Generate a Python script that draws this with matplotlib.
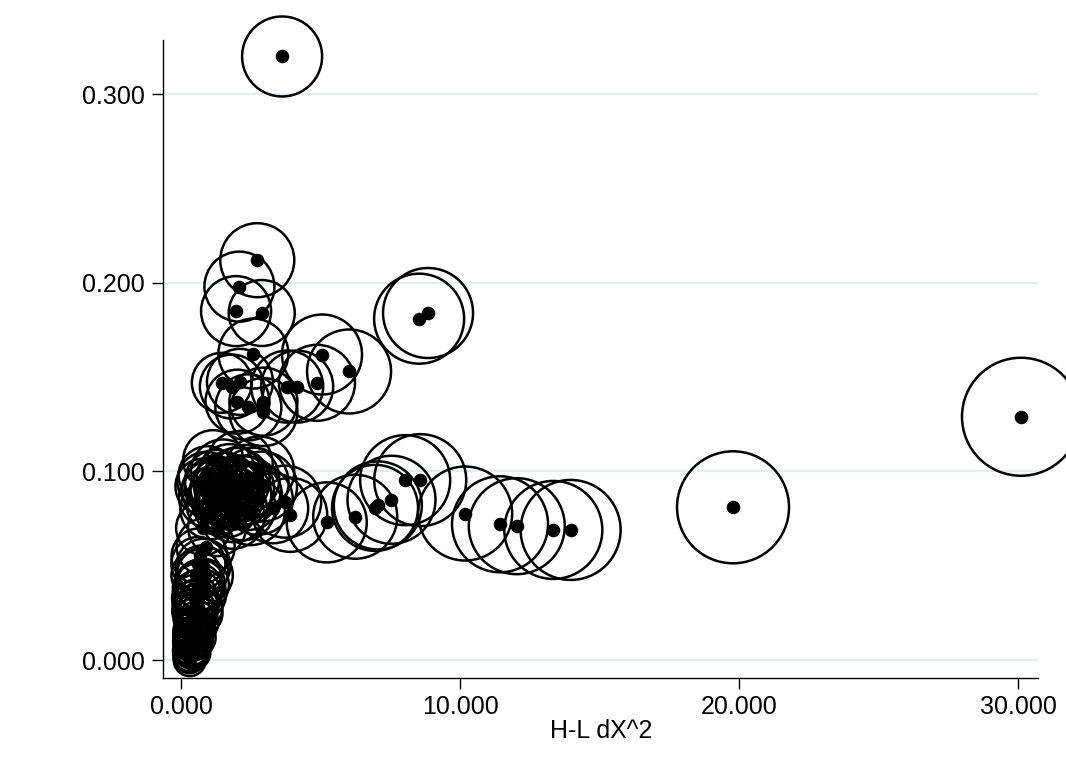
import matplotlib
matplotlib.use("Agg")
import matplotlib.pyplot as plt
from matplotlib.ticker import FormatStrFormatter

plt.rcParams["font.family"] = ["Liberation Sans", "DejaVu Sans"]

# H-L dX^2 against the statistic; r is the weight used for the hollow markers
# upper branch + outliers
x_hi = [3.62, 30.1, 19.78, 8.53, 8.85, 2.73, 2.09, 1.97, 2.89, 2.59, 5.05, 6.02,
        4.87, 3.80, 4.16, 1.46, 1.82, 2.11, 2.02, 2.41, 2.95, 2.95]
y_hi = [0.320, 0.129, 0.081, 0.181, 0.184, 0.212, 0.198, 0.185, 0.184, 0.1625, 0.162, 0.153,
        0.147, 0.145, 0.145, 0.147, 0.145, 0.1475, 0.137, 0.134, 0.137, 0.1315]
r_hi = [40, 59, 56, 45, 45, 37, 35, 35, 33, 35, 40, 42,
        38, 36, 36, 30, 32, 33, 32, 33, 34, 34]

# long tail around 0.07-0.10
x_tail = [3.73, 3.91, 5.22, 6.24, 6.95, 7.05, 7.54, 8.03, 8.57, 10.18, 11.43, 12.03,
          13.34, 13.96, 3.30]
y_tail = [0.084, 0.077, 0.073, 0.076, 0.0807, 0.082, 0.085, 0.0954, 0.0954, 0.0777, 0.072, 0.071,
          0.069, 0.069, 0.0805]
r_tail = [36, 37, 40, 42, 43, 44, 44, 45, 46, 47, 48, 48,
          49, 50, 35]

# dense knot near x = 1-3
x_knot = [1.15, 0.95, 1.25, 1.50, 1.75, 2.00, 2.30, 2.60, 2.90, 1.10, 1.40, 1.70,
          2.05, 2.40, 2.75, 1.30, 1.60, 1.90, 2.20, 2.50, 1.00, 0.80, 2.80, 0.79,
          1.29, 1.85, 2.10, 1.60, 1.20, 1.45, 1.80, 2.15, 0.90, 1.65, 2.35, 1.05]
y_knot = [0.106, 0.098, 0.095, 0.100, 0.097, 0.095, 0.096, 0.094, 0.092, 0.090, 0.088, 0.090,
          0.088, 0.087, 0.085, 0.083, 0.082, 0.080, 0.081, 0.079, 0.086, 0.092, 0.100, 0.070,
          0.0705, 0.076, 0.104, 0.093, 0.092, 0.091, 0.086, 0.091, 0.095, 0.087, 0.090, 0.080]
r_knot = [30, 29, 31, 32, 33, 33, 34, 35, 35, 30, 31, 32,
          33, 34, 35, 31, 32, 33, 33, 34, 30, 28, 35, 27,
          29, 32, 33, 32, 30, 31, 32, 33, 29, 31, 34, 30]

# column rising from the origin
x_low = [0.62, 0.75, 0.55, 0.68, 0.58, 0.50, 0.55, 0.50, 0.45, 0.48, 0.40, 0.42,
         0.36, 0.38, 0.32, 0.34, 0.30, 0.31, 0.30, 0.52, 0.62, 0.72, 0.85, 0.66,
         0.88, 0.33, 0.40, 0.44, 0.78, 0.58, 0.46, 0.40, 0.36, 0.52, 0.66, 0.80,
         0.47, 0.34, 0.60, 0.50, 0.38, 0.42, 0.35, 0.48, 0.56, 0.33, 0.44, 0.52]
y_low = [0.051, 0.047, 0.045, 0.040, 0.035, 0.033, 0.028, 0.024, 0.022, 0.018, 0.015, 0.012,
         0.010, 0.007, 0.005, 0.003, 0.002, 0.000, 0.001, 0.030, 0.028, 0.035, 0.045, 0.055,
         0.060, 0.008, 0.016, 0.004, 0.040, 0.020, 0.010, 0.006, 0.013, 0.012, 0.025, 0.050,
         0.026, 0.009, 0.038, 0.016, 0.003, 0.008, 0.011, 0.019, 0.023, 0.006, 0.014, 0.031]
r_low = [27, 26, 25, 25, 24, 23, 22, 21, 20, 20, 19, 19,
         18, 18, 17, 17, 16, 16, 15, 23, 24, 25, 28, 28,
         29, 16, 18, 17, 26, 21, 19, 18, 18, 20, 23, 27,
         22, 17, 25, 20, 14, 15, 13, 17, 20, 12, 16, 22]

xs = x_hi + x_tail + x_knot + x_low
ys = y_hi + y_tail + y_knot + y_low
rs = r_hi + r_tail + r_knot + r_low

fig = plt.figure(figsize=(10.66, 7.74), dpi=100)
ax = fig.add_axes([0.153, 0.124, 0.821, 0.824])

ax.set_xlim(-0.645, 30.72)
ax.set_ylim(-0.0095, 0.3286)
ax.set_xticks([0, 10, 20, 30])
ax.set_yticks([0, 0.1, 0.2, 0.3])
ax.xaxis.set_major_formatter(FormatStrFormatter("%.3f"))
ax.yaxis.set_major_formatter(FormatStrFormatter("%.3f"))
ax.grid(axis="y", color="#e6eef1", lw=1.6, zorder=0)
ax.set_axisbelow(True)

# hollow weighted markers, then the plain dots on top
sizes = [(1.44 * r) ** 2 for r in rs]
ax.scatter(xs, ys, s=sizes, facecolors="none", edgecolors="black",
           linewidths=1.8, zorder=2, clip_on=False)
ax.scatter(xs, ys, s=95, color="black", lw=0, zorder=3, clip_on=False)

for side in ["top", "right"]:
    ax.spines[side].set_visible(False)
for side in ["left", "bottom"]:
    ax.spines[side].set_color("black")
    ax.spines[side].set_linewidth(1.0)
ax.tick_params(length=8, width=1.0, labelsize=18, pad=5)
ax.tick_params(axis="x", pad=4)
ax.set_xlabel("H-L dX^2", fontsize=18, labelpad=0)

fig.savefig("out.png", dpi=100, facecolor="white")
